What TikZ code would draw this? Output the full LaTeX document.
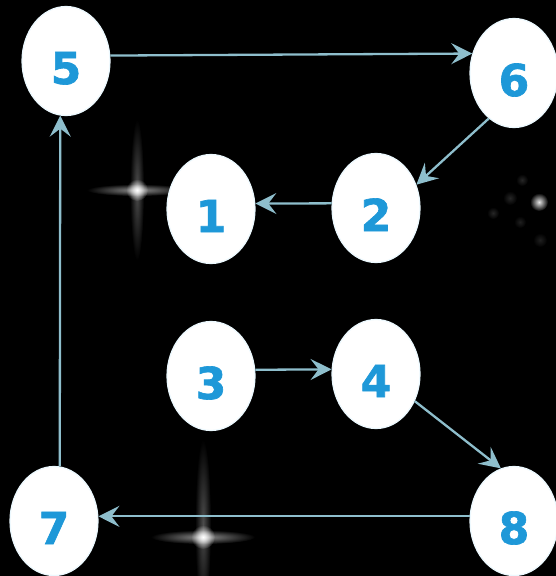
\documentclass[tikz,border=0pt]{standalone}
\usepackage{fontspec}
\usepackage{tikz}
\usetikzlibrary{arrows.meta}
\usetikzlibrary{positioning}
\usetikzlibrary{shapes.geometric}
\usetikzlibrary{fadings}
\newfontfamily\digitfont[FakeBold=1.5]{DejaVu Sans Bold}
\definecolor{numblue}{RGB}{30,152,216}
\definecolor{linkc}{RGB}{142,190,204}
\tikzfading[name=glowfade, inner color=transparent!0, outer color=transparent!100]

\begin{document}
\begin{tikzpicture}[
    x=1pt, y=-1pt,
    egg/.style={
        draw=cyan!8, line width=1.2pt,
        fill=white, ellipse,
        minimum width=88pt,
        minimum height=109pt,
        inner sep=0pt,
        text height=46pt, text depth=0pt,
        text=numblue,
        font=\digitfont\fontsize{44}{44}\selectfont
    },
    link/.style={
        draw=linkc, line width=2.3pt,
        -{Stealth[length=21pt, width=21pt, inset=8pt]}
    },
    glow/.style={fill=white, path fading=glowfade}
]
\fill[black] (0,0) rectangle (556,576);
\useasboundingbox (0,0) rectangle (556,576);

% sparkles
\fill[glow, opacity=0.3] (137,190) ellipse (7 and 70);
\fill[glow, opacity=0.55] (137,190) ellipse (50 and 6);
\fill[glow] (137,190) circle (11);
\fill[glow, opacity=0.3] (203,525) ellipse (8 and 85);
\fill[glow, opacity=0.55] (203,537) ellipse (52 and 7);
\fill[glow] (203,537) circle (12);
\fill[glow, opacity=0.9] (539,202) circle (9);
\fill[glow, opacity=0.15] (510,198) circle (7);
\fill[glow, opacity=0.15] (493,213) circle (6);
\fill[glow, opacity=0.15] (522,180) circle (6);
\fill[glow, opacity=0.12] (540,240) circle (7);
\fill[glow, opacity=0.12] (520,222) circle (6);

% the eight nodes
\node[egg] (n5) at (66,61) {5};
\node[egg] (n6) at (514,73) {6};
\node[egg] (n1) at (211,209) {1};
\node[egg] (n2) at (376,208) {2};
\node[egg] (n3) at (211,376) {3};
\node[egg] (n4) at (376,374) {4};
\node[egg] (n7) at (54,521) {7};
\node[egg] (n8) at (514,521) {8};

% links
\draw[link] (n5.7) -- (n6.155);
\draw[link] (n6.241) -- (n2.30);
\draw[link] (n2.174) -- (n1.7);
\draw[link] (n3.8) -- (n4.174);
\draw[link] (n4.-35) -- (n8.104);
\draw[link] (n8.174) -- (n7.6);
\draw[link] (n7.84) -- (n5.264);
\end{tikzpicture}
\end{document}
